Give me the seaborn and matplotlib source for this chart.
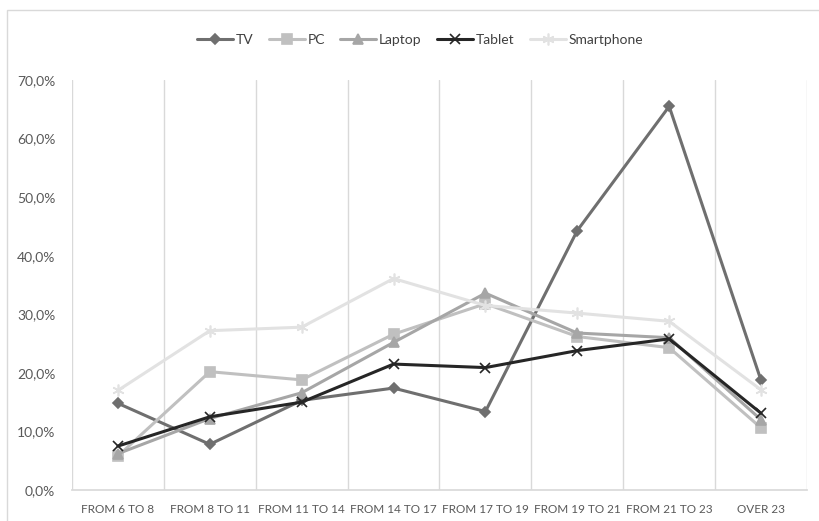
import pandas as pd
import seaborn as sns
import matplotlib.pyplot as plt
from matplotlib.ticker import FuncFormatter, FixedLocator
from matplotlib.patches import Rectangle

# Categorie orarie
categories = ["FROM 6 TO 8", "FROM 8 TO 11", "FROM 11 TO 14", "FROM 14 TO 17",
              "FROM 17 TO 19", "FROM 19 TO 21", "FROM 21 TO 23", "OVER 23"]

# Valori (%)
tv = [14.8, 7.8, 15.3, 17.4, 13.4, 44.3, 65.5, 18.7]
pc = [5.8, 20.2, 18.8, 26.6, 31.8, 26.2, 24.3, 10.6]
laptop = [6.2, 12.2, 16.6, 25.2, 33.6, 26.8, 26.0, 12.0]
tablet = [7.5, 12.5, 15.0, 21.5, 20.9, 23.8, 25.8, 13.1]
smartphone = [17.0, 27.2, 27.8, 36.1, 31.5, 30.2, 28.8, 17.1]

series = {"TV": tv, "PC": pc, "Laptop": laptop, "Tablet": tablet, "Smartphone": smartphone}
colors = {"TV": "#6f6f6f", "PC": "#c0c0c0", "Laptop": "#a6a6a6", "Tablet": "#262626", "Smartphone": "#e2e2e2"}
markers = {"TV": "D", "PC": "s", "Laptop": "^", "Tablet": "x", "Smartphone": (6, 2, 0)}
msizes = {"TV": 5, "PC": 7.5, "Laptop": 7.5, "Tablet": 7.5, "Smartphone": 8.5}

sns.set_theme(style="white")
plt.rcParams["font.family"] = ["Lato", "DejaVu Sans"]

fig = plt.figure(figsize=(8.2, 5.21), dpi=100)
ax = fig.add_axes([72 / 820, 1 - 490 / 521, (807 - 72) / 820, (490 - 80) / 521])

for name, vals in series.items():
    df = pd.DataFrame({"Fascia": categories, "Valore": vals})
    sns.lineplot(data=df, x="Fascia", y="Valore", ax=ax, color=colors[name], linewidth=2.2,
                 marker=markers[name], markersize=msizes[name], markeredgecolor=colors[name],
                 markeredgewidth=1.2, label=name, sort=False)

ax.set_xlim(-0.5, len(categories) - 0.5)
ax.set_ylim(0, 70)
ax.set_yticks(range(0, 71, 10))
ax.yaxis.set_major_formatter(FuncFormatter(lambda v, p: f"{v:.1f}%".replace(".", ",")))
ax.xaxis.set_minor_locator(FixedLocator([i - 0.5 for i in range(len(categories) + 1)]))
ax.grid(False)
ax.grid(True, which="minor", axis="x", color="#d9d9d9", linewidth=1)
ax.set_xlabel("")
ax.set_ylabel("")
for s in ["top", "right", "left"]:
    ax.spines[s].set_visible(False)
ax.spines["bottom"].set_color("#d9d9d9")
ax.tick_params(axis="both", which="both", length=0, colors="#595959")
ax.tick_params(axis="x", labelsize=8.5, pad=10)
ax.tick_params(axis="y", labelsize=10, pad=12)

leg = ax.legend(loc="center", bbox_to_anchor=(420 / 820, 1 - 40 / 521), bbox_transform=fig.transFigure,
                ncol=5, frameon=False, fontsize=10, handlelength=2.6, columnspacing=1.1, handletextpad=0.2)
for t in leg.get_texts():
    t.set_color("#404040")

fig.patches.append(Rectangle((7 / 820, -0.1), 1.2, 1 - 10 / 521 + 0.1, transform=fig.transFigure,
                             fill=False, edgecolor="#d9d9d9", linewidth=1))

fig.savefig("out.png", dpi=100)
